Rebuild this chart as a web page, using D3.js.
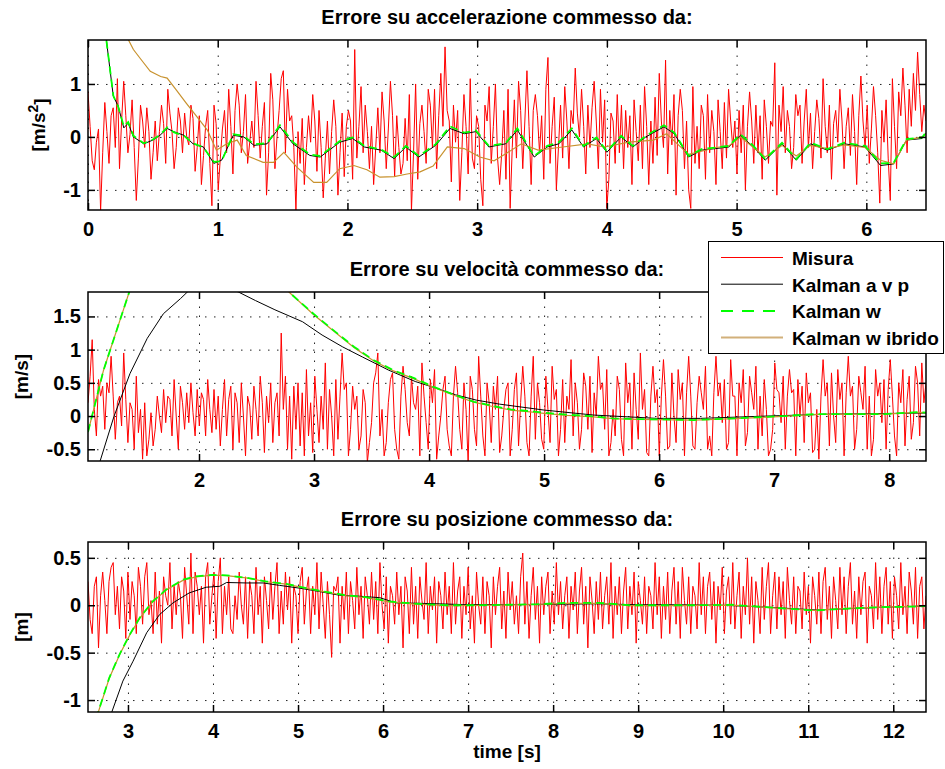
<!DOCTYPE html>
<html><head><meta charset="utf-8">
<script src="https://cdn.jsdelivr.net/npm/d3@7"></script>
<style>
body{margin:0;background:#fff}
text{font-family:"Liberation Sans",Arial,Helvetica,sans-serif;font-weight:bold;fill:#000}
</style>
</head><body>
<svg id="c" width="945" height="769"></svg>
<script>
// ---------------- DATA ----------------
const seriesNames = ["Misura", "Kalman a v p", "Kalman w", "Kalman w ibrido"];

// Panel 1: acceleration error (Misura sampled evenly from T0 to T1)
const accXTicks = [0, 1, 2, 3, 4, 5, 6];
const accYTicks = [-1, 0, 1];
const accMisuraT0 = 0, accMisuraT1 = 6.46;
const accMisura = [
 0.85,0.2,-0.45,-0.62,-0.1,0.15,-1.4,-0.3,0.65,0.1,-0.5,0.4,0.55,-0.2,1.1,-0.6,0.3,1.05,0.4,-0.3,
 0.05,0.7,-0.2,-1.2,-0.4,0.6,0.3,-0.2,0.55,0.1,-0.8,-0.3,0.3,-0.45,0.1,0.6,0.25,-0.5,0.9,0.45,
 0.1,-0.6,-0.2,0.55,0.3,-0.3,0.45,0.0,-0.15,0.6,0.35,-0.65,-0.2,0.4,-0.9,-0.35,0.2,0.5,-0.5,-1.3,
 0.6,0.25,-1.0,-0.4,0.15,0.5,-0.3,0.9,0.2,-0.7,0.5,1.0,0.6,-0.3,0.1,0.8,-0.5,-0.1,0.3,-0.2,
 1.05,0.4,-0.4,0.2,0.65,-1.1,-0.3,1.2,0.7,-0.6,0.0,0.5,1.1,1.25,-0.3,0.9,0.3,0.4,-0.2,-1.4,
 0.1,-0.5,0.35,-0.9,-0.2,0.4,-0.1,0.8,0.3,-0.65,0.5,-0.2,-1.15,-0.4,0.3,-0.7,0.1,0.7,0.2,-1.1,
 -0.3,0.45,-0.75,0.2,0.5,0.3,-0.8,1.65,-0.4,0.2,0.95,-0.3,0.6,0.1,-0.6,0.2,-0.9,-0.2,0.55,-0.3,
 0.85,0.3,-0.6,0.15,1.05,0.4,-0.75,0.4,-0.2,-0.7,-0.5,0.35,-0.45,0.8,-1.4,-0.3,1.0,-0.8,0.25,0.6,
 0.1,-0.5,0.9,0.6,-0.2,0.9,-0.6,0.4,1.2,0.2,1.7,0.5,0.3,-0.85,0.6,-0.1,0.5,-1.2,-0.3,0.8,
 0.2,-0.7,1.1,-0.4,-0.6,0.4,0.2,-0.8,-1.3,0.6,0.3,0.95,-0.5,0.2,1.0,-0.4,-0.9,-0.3,0.5,-0.8,
 0.9,-1.35,-0.2,0.7,-0.4,1.05,0.5,-0.6,0.3,1.25,0.2,-0.9,0.5,0.8,0.4,-0.3,0.4,-0.8,0.9,1.5,
 -0.5,0.2,0.75,-1.0,-0.2,0.6,-0.4,0.95,0.3,-0.6,0.5,0.25,1.3,0.45,0.0,0.9,0.2,-0.7,0.6,-0.2,
 0.55,1.05,0.3,-0.6,0.9,-0.1,0.7,-1.35,-0.8,0.45,0.3,-0.5,0.8,-0.3,0.6,-0.6,0.5,-0.2,0.4,-0.9,
 0.7,0.1,-0.45,0.6,-0.6,0.95,0.2,-0.9,0.3,-0.5,0.75,-0.35,1.2,0.3,-0.2,1.45,-0.7,0.5,-0.15,0.8,
 -1.1,0.4,0.9,0.5,-0.6,0.3,-1.0,-1.35,0.95,-0.5,0.2,-0.6,0.6,0.4,-0.8,0.8,-0.3,0.5,0.1,-0.9,
 0.7,0.1,-0.6,0.65,-0.4,0.9,0.3,-0.2,0.3,-0.7,0.5,-0.3,0.6,-1.0,0.2,0.85,0.3,-0.5,0.6,-0.3,
 0.4,-0.8,0.7,0.2,-0.5,0.3,0.2,1.4,-1.1,0.6,0.1,0.95,-0.3,0.5,0.2,-0.6,-0.2,0.8,0.4,0.6,
 -0.5,0.3,0.9,-0.2,0.45,-0.6,0.1,0.7,0.35,-0.4,1.1,0.2,-0.3,0.6,-0.8,0.25,0.5,-0.1,0.9,0.3,
 -0.6,0.2,0.55,-0.35,0.8,0.1,-0.9,0.4,1.15,0.3,-0.2,0.6,-0.5,0.15,0.95,0.4,-0.3,-1.25,0.5,-0.1,
 0.7,-0.4,-1.2,1.1,0.2,-0.6,0.85,0.4,1.3,0.6,-0.3,0.9,0.2,1.2,0.5,1.6,0.8,0.1,0.6,0.3
];
const accKalT = [0,0.05,0.1,0.14,0.195,0.233,0.276,0.31,0.35,0.43,
 0.5,0.555,0.61,0.66,0.74,0.81,0.89,0.97,1.03,1.12,
 1.2,1.28,1.38,1.48,1.58,1.71,1.79,1.94,2.04,2.13,
 2.26,2.36,2.45,2.55,2.68,2.79,2.9,2.99,3.09,3.22,
 3.31,3.44,3.54,3.63,3.73,3.82,3.92,4.0,4.11,4.2,
 4.3,4.44,4.52,4.63,4.73,4.84,4.94,5.03,5.13,5.22,
 5.35,5.46,5.57,5.7,5.83,5.99,6.11,6.21,6.31,6.43,6.47];
const accKalAVP = [4.0,3.2,2.4,1.86,0.77,0.58,0.17,0.26,0.0,-0.13,
 -0.06,0.03,0.16,0.1,0.03,-0.13,-0.19,-0.5,-0.44,0.03,
 0.0,-0.16,-0.13,0.19,-0.13,-0.35,-0.38,-0.1,-0.03,-0.19,
 -0.25,-0.41,-0.19,-0.38,-0.16,0.16,0.06,0.1,-0.19,-0.13,
 0.13,-0.38,-0.19,-0.13,0.13,-0.19,-0.03,-0.29,0.0,-0.19,
 0.0,0.19,0.06,-0.38,-0.25,-0.22,-0.19,0.03,-0.19,-0.44,
 -0.13,-0.44,-0.13,-0.25,-0.13,-0.19,-0.54,-0.51,-0.06,-0.03,0.1];
const accKalW = [4.0,3.2,2.4,1.86,0.78,0.57,0.2,0.28,0.02,-0.12,
 -0.05,0.04,0.18,0.09,0.02,-0.12,-0.2,-0.47,-0.46,0.05,
 0.02,-0.14,-0.12,0.22,-0.1,-0.33,-0.36,-0.08,-0.01,-0.17,
 -0.24,-0.38,-0.17,-0.36,-0.14,0.2,0.08,0.12,-0.17,-0.12,
 0.16,-0.36,-0.17,-0.1,0.16,-0.17,-0.01,-0.27,0.02,-0.17,
 0.02,0.22,0.08,-0.36,-0.23,-0.2,-0.17,0.05,-0.17,-0.42,
 -0.11,-0.42,-0.11,-0.23,-0.11,-0.17,-0.5,-0.49,-0.04,-0.01,0.12];
const accIbrT = [0,0.2,0.27,0.31,0.35,0.4,0.48,0.56,0.61,0.68,
 0.76,0.83,0.92,0.99,1.07,1.15,1.22,1.35,1.43,1.51,
 1.61,1.74,1.84,1.94,2.05,2.15,2.25,2.36,2.46,2.56,
 2.66,2.77,2.9,3.02,3.13,3.22,3.34,3.47,3.66,3.85,
 3.98,4.17,4.36,4.46,4.63,4.73,4.84,4.94,5.03,5.13,
 5.22,5.35,5.46,5.57,5.7,5.83,5.99,6.11,6.21,6.31,6.43,6.47];
const accIbr = [3.0,2.1,1.87,1.84,1.65,1.49,1.24,1.14,1.11,0.89,
 0.63,0.41,0.13,-0.25,-0.13,-0.06,-0.35,-0.48,-0.48,-0.29,
 -0.57,-0.86,-0.86,-0.6,-0.54,-0.62,-0.76,-0.75,-0.7,-0.66,
 -0.55,-0.19,-0.22,-0.38,-0.45,-0.32,-0.13,-0.25,-0.19,-0.13,
 -0.19,-0.1,-0.06,0.06,-0.33,-0.27,-0.2,-0.17,0.0,-0.2,
 -0.38,-0.16,-0.36,-0.16,-0.22,-0.15,-0.2,-0.44,-0.51,-0.06,0.0,0.06];

// Panel 2: velocity error
const velXTicks = [2, 3, 4, 5, 6, 7, 8];
const velYTicks = [-0.5, 0, 0.5, 1, 1.5];
const velMisuraT0 = 1.035, velMisuraT1 = 8.32;
const velMisura = [
 0.2,0.6,1.15,0.1,-0.3,0.55,0.3,0.45,-0.2,0.5,0.35,0.9,0.3,-0.35,0.2,0.3,-0.15,0.95,0.25,-0.4,
 0.2,0.1,-0.5,0.6,-0.25,0.1,-0.65,0.2,-0.6,-0.35,0.05,-0.45,-0.2,0.3,0.0,-0.25,0.4,-0.1,0.3,0.25,
 -0.3,0.55,0.0,-0.5,0.45,0.2,-0.2,0.35,-0.1,0.5,0.05,-0.3,0.4,-0.15,0.35,0.25,-0.3,0.55,0.1,-0.25,
 0.4,-0.2,0.3,-0.45,0.1,0.55,-0.3,0.25,0.45,-0.5,0.35,0.2,-0.4,0.5,0.0,-0.6,0.3,0.15,-0.35,0.45,
 0.1,-0.3,0.6,0.2,-0.55,0.3,-0.1,0.5,-0.4,0.2,0.35,-0.3,1.25,0.1,0.6,-0.5,0.3,-0.65,0.45,-0.2,
 0.5,-0.45,0.35,-0.6,0.7,-0.3,0.2,-0.55,0.6,0.1,-0.4,0.3,-0.2,0.8,-0.5,0.4,0.0,-0.6,0.55,-0.35,
 0.3,0.95,0.4,0.5,-0.6,-0.2,0.45,0.1,0.3,-0.5,-0.3,0.4,0.2,-0.7,-0.4,-0.1,0.5,0.65,0.95,-0.3,
 0.1,-0.6,-0.4,0.2,0.55,0.65,-0.2,-0.5,-0.65,0.3,0.75,0.4,-0.1,-0.3,0.6,0.2,0.1,0.45,-0.6,0.8,
 0.3,-0.1,-0.5,0.55,0.2,0.7,-0.65,-0.3,0.0,0.4,0.6,-0.2,-0.45,-0.6,0.3,0.75,0.35,-0.2,-0.5,0.5,
 0.1,-0.7,0.6,0.4,-0.2,-0.45,0.9,0.3,-0.3,-0.6,0.5,0.2,-0.4,0.45,0.1,0.6,-0.55,-0.3,0.1,0.4,
 0.5,-0.6,-0.2,0.4,0.65,-0.45,0.2,0.75,0.3,-0.4,-0.6,0.3,0.9,-0.35,0.5,0.2,-0.35,-0.5,0.6,0.1,
 -0.4,0.75,0.25,0.4,-0.6,-0.2,0.55,-0.4,0.3,0.1,0.85,-0.3,0.5,0.2,-0.5,-0.2,0.65,0.45,-0.2,0.6,
 -0.55,0.35,0.0,0.9,0.4,0.5,-0.2,0.7,-0.6,-0.4,0.1,-0.3,0.6,0.4,-0.35,-0.6,0.8,0.2,0.5,-0.5,
 0.65,0.1,-0.35,0.95,0.1,0.4,-0.55,-0.6,0.3,0.75,0.2,0.4,-0.6,0.3,0.85,0.3,-0.5,-0.45,0.65,0.0,
 -0.4,0.7,0.25,0.5,-0.6,0.35,0.9,0.3,-0.45,-0.5,0.2,0.6,0.35,0.1,0.75,-0.5,-0.3,-0.6,0.35,0.9,
 0.3,0.5,-0.1,0.55,-0.5,-0.4,0.85,0.3,0.3,-0.6,0.5,0.2,0.7,-0.45,-0.25,0.6,0.35,0.1,0.75,-0.5,
 0.3,-0.3,0.55,0.1,-0.6,-0.5,-0.2,0.8,0.4,0.35,-0.1,0.6,-0.5,0.3,0.7,0.35,0.4,-0.6,0.55,0.0,
 0.45,-0.4,0.65,0.2,0.35,-0.55,-0.5,0.1,-0.65,0.3,0.85,0.3,0.5,-0.45,0.65,0.0,-0.4,0.7,0.25,0.5,
 -0.6,0.35,0.9,0.3,0.45,-0.5,-0.2,0.6,0.35,0.1,0.75,-0.5,0.3,-0.6,-0.35,0.7,0.3,0.5,-0.1,0.55,
 -0.5,0.4,0.85,0.3,-0.3,-0.6,0.5,0.2,0.7,-0.45,0.25,0.6,-0.35,-0.1,0.75,0.5,-0.3,0.8,0.2,0.5
];
const velKalAVPT = [1.035,1.14,1.26,1.4,1.55,1.69,1.84,1.9,2.1,2.34,
 2.49,2.66,2.9,3.07,3.25,3.42,3.65,3.88,4.06,4.23,
 4.41,4.61,5.0,5.43,5.98,6.36,6.94,7.52,8.32];
const velKalAVP = [-1.4,-0.68,-0.01,0.64,1.17,1.54,1.77,1.87,2.0,1.87,
 1.74,1.6,1.42,1.22,1.04,0.89,0.69,0.52,0.42,0.32,
 0.24,0.18,0.09,0.015,-0.035,-0.035,0.0,0.03,0.045];
const velKalWT = [1.035,1.17,1.394,1.6,1.8,2.0,2.2,2.4,2.6,2.78,
 2.995,3.17,3.35,3.52,3.69,3.87,4.04,4.22,4.39,4.56,
 4.71,4.9,5.0,5.2,5.4,5.6,5.8,6.0,6.3,6.65,
 7.08,7.37,7.67,7.96,8.25,8.32];
const velKalW = [-0.24,0.69,1.87,2.9,3.4,3.6,3.5,3.1,2.5,1.87,
 1.54,1.29,1.04,0.84,0.69,0.57,0.44,0.32,0.215,0.15,
 0.1,0.07,0.05,0.02,0.0,-0.035,-0.045,-0.05,-0.06,-0.035,
 0.0,0.03,0.03,0.03,0.06,0.05];
const velIbr = [-0.24,0.69,1.87,2.9,3.4,3.6,3.5,3.1,2.5,1.87,
 1.53,1.28,1.03,0.83,0.68,0.56,0.43,0.31,0.21,0.14,
 0.09,0.06,0.04,0.01,-0.01,-0.04,-0.05,-0.055,-0.06,-0.04,
 -0.005,0.025,0.03,0.03,0.055,0.05];

// Panel 3: position error
const posXTicks = [3, 4, 5, 6, 7, 8, 9, 10, 11, 12];
const posYTicks = [-1, -0.5, 0, 0.5];
const posMisuraT0 = 2.53, posMisuraT1 = 12.385;
const posMisura = [
 0.25,-0.15,-0.3,0.2,0.3,-0.45,0.1,0.35,0.05,-0.3,0.25,0.4,0.45,-0.1,0.2,-0.25,0.3,0.15,-0.35,0.35,
 -0.15,0.25,0.1,-0.3,0.4,0.2,-0.2,0.3,0.45,-0.1,0.05,-0.3,0.35,-0.2,0.15,-0.4,0.3,0.1,0.0,0.45,
 -0.25,0.2,-0.1,0.25,0.1,-0.35,0.4,0.1,-0.2,0.55,-0.3,0.35,0.2,-0.1,0.2,-0.4,0.3,0.45,-0.2,0.1,
 0.35,-0.35,0.25,0.5,-0.3,0.2,-0.1,0.3,-0.25,-0.3,0.1,-0.15,0.35,0.0,-0.2,0.3,-0.35,0.25,0.1,-0.3,
 0.4,-0.1,0.2,-0.4,0.3,0.05,-0.25,0.35,-0.15,0.2,0.45,-0.3,0.15,-0.2,0.35,-0.05,0.3,-0.4,0.2,0.1,
 -0.3,0.25,0.4,-0.2,0.15,0.3,-0.3,0.2,-0.1,0.45,-0.25,0.35,0.0,-0.35,0.25,-0.1,-0.55,0.2,0.15,0.3,
 -0.4,0.2,-0.15,0.35,-0.3,0.25,0.05,-0.25,0.4,-0.1,0.2,-0.35,0.3,0.1,-0.2,0.35,-0.15,0.25,-0.3,0.45,
 0.0,-0.25,0.3,-0.4,0.2,0.1,-0.2,0.35,-0.1,0.2,-0.45,0.3,0.15,-0.3,0.4,-0.2,0.2,-0.35,0.3,0.05,
 -0.15,0.45,-0.3,0.2,-0.05,0.3,-0.4,0.25,0.1,-0.25,0.35,-0.1,0.2,-0.3,0.45,-0.2,0.15,0.3,-0.35,0.2,
 -0.1,0.4,-0.25,0.1,-0.4,0.35,0.0,-0.2,0.3,-0.3,0.25,0.1,-0.45,0.3,-0.1,0.2,0.4,-0.25,0.15,-0.35,
 0.35,-0.05,0.25,-0.2,0.1,-0.3,0.3,0.55,-0.2,0.25,-0.35,0.1,0.4,-0.15,0.2,-0.4,0.3,-0.1,0.2,0.35,
 -0.3,0.15,-0.2,0.45,-0.1,0.25,-0.25,0.1,0.3,-0.35,0.2,-0.05,0.35,-0.3,0.15,0.4,-0.2,0.2,-0.45,0.3,
 0.05,-0.3,0.25,-0.15,0.35,-0.25,0.1,0.3,-0.2,0.45,-0.35,0.2,-0.1,0.3,-0.3,0.15,0.4,-0.25,0.2,-0.1,
 0.35,-0.4,0.25,0.05,-0.2,0.3,-0.3,0.2,0.1,-0.25,0.45,-0.1,0.3,-0.35,0.2,-0.15,0.35,-0.3,0.15,0.4,
 -0.2,0.25,-0.35,0.4,0.05,-0.2,0.3,-0.3,0.2,0.1,-0.25,0.45,-0.1,0.3,-0.3,0.2,0.35,-0.15,0.25,-0.4,
 0.2,-0.05,0.4,-0.3,0.15,0.3,-0.2,0.45,-0.25,0.1,0.35,-0.35,0.2,-0.1,0.5,-0.2,0.3,-0.4,0.25,0.05,
 -0.3,0.4,-0.15,0.2,0.45,-0.3,0.1,0.35,-0.25,0.3,-0.1,0.25,-0.35,0.4,0.05,-0.2,0.3,-0.3,0.2,0.15,
 -0.25,0.35,-0.1,0.2,-0.4,0.3,0.1,-0.2,0.35,-0.3,0.25,0.4,-0.15,0.2,-0.35,0.3,0.05,-0.25,0.4,-0.1,
 0.3,-0.3,0.2,0.45,-0.2,0.15,-0.35,0.3,-0.1,0.25,0.35,-0.4,0.2,0.1,-0.25,0.45,-0.15,0.3,-0.3,0.2,
 0.4,-0.2,0.25,-0.35,0.3,0.1,-0.25,0.45,-0.1,0.2,-0.3,0.35,0.15,-0.2,0.4,-0.35,0.2,0.3,-0.25,0.1
];
const posKalAVPT = [2.53,2.81,2.94,3.06,3.22,3.37,3.53,3.72,3.92,4.08,
 4.16,4.39,4.59,4.78,5.02,5.25,5.49,5.72,5.96,6.15,
 6.54,6.93,7.48,8.0,8.5,9.0,9.5,10.0,10.5,10.9,
 11.1,11.5,11.9,12.38];
const posKalAVP = [-1.9,-1.126,-0.8,-0.59,-0.29,-0.1,0.025,0.13,0.19,0.2,
 0.24,0.235,0.235,0.21,0.18,0.145,0.105,0.095,0.08,0.025,
 0.018,0.007,0.007,0.01,0.015,0.005,0.005,0.0,-0.02,-0.04,
 -0.05,-0.035,-0.02,-0.01];
const posKalWT = [2.53,2.65,2.78,2.9,3.02,3.14,3.29,3.45,3.65,3.8,
 4.0,4.16,4.39,4.63,4.86,5.1,5.33,5.57,5.8,6.07,
 6.35,6.74,7.13,7.48,7.8,8.15,8.54,8.9,9.3,9.7,
 10.1,10.5,10.9,11.08,11.47,11.86,12.2,12.38];
const posKalW = [-1.46,-1.126,-0.765,-0.52,-0.31,-0.13,0.04,0.165,0.27,0.305,
 0.32,0.315,0.29,0.25,0.225,0.18,0.14,0.105,0.085,0.04,
 0.018,0.0,0.0,0.005,0.01,0.025,0.025,0.0,0.0,0.0,
 0.005,-0.02,-0.045,-0.056,-0.035,-0.02,-0.015,-0.01];
const posIbr = [-1.47,-1.13,-0.77,-0.525,-0.315,-0.135,0.035,0.16,0.265,0.3,
 0.318,0.312,0.288,0.248,0.222,0.178,0.138,0.1,0.08,0.035,
 0.015,-0.003,-0.002,0.003,0.008,0.02,0.02,-0.003,-0.003,-0.002,
 0.002,-0.022,-0.045,-0.054,-0.033,-0.02,-0.013,-0.008];

// ---------------- DRAW ----------------
const colors = {mis:"#ff0000", avp:"#000000", w:"#00ff00", ibr:"#c8922e", ibrLeg:"#d2b07a"};
const L = 88, R = 926;
const zip = (ts, vs) => vs.map((v, i) => [ts[i], v]);
const evenly = (t0, t1, vs) => vs.map((v, i) => [t0 + i * (t1 - t0) / (vs.length - 1), v]);

const panels = [
  {top:40, bottom:210, xDom:[0, 6.46], yDom:[-1.38, 1.83], xTicks:accXTicks, yTicks:accYTicks,
   title:"Errore su accelerazione commesso da:", ylab:"acc", ylx:38,
   mis:evenly(accMisuraT0, accMisuraT1, accMisura), avp:zip(accKalT, accKalAVP),
   w:zip(accKalT, accKalW), ibr:zip(accIbrT, accIbr)},
  {top:292, bottom:461, xDom:[1.035, 8.32], yDom:[-0.677, 1.868], xTicks:velXTicks, yTicks:velYTicks,
   title:"Errore su velocità commesso da:", ylab:"[m/s]", ylx:21,
   mis:evenly(velMisuraT0, velMisuraT1, velMisura), avp:zip(velKalAVPT, velKalAVP),
   w:zip(velKalWT, velKalW), ibr:zip(velKalWT, velIbr)},
  {top:542, bottom:712, xDom:[2.53, 12.385], yDom:[-1.126, 0.667], xTicks:posXTicks, yTicks:posYTicks,
   title:"Errore su posizione commesso da:", ylab:"[m]", ylx:21,
   mis:evenly(posMisuraT0, posMisuraT1, posMisura), avp:zip(posKalAVPT, posKalAVP),
   w:zip(posKalWT, posKalW), ibr:zip(posKalWT, posIbr)}
];

const svg = d3.select("#c");
svg.append("rect").attr("width",945).attr("height",769).attr("fill","#fff");
const FS = 19, TFS = 20;

panels.forEach((p, pi) => {
  const x = d3.scaleLinear().domain(p.xDom).range([L, R]);
  const y = d3.scaleLinear().domain(p.yDom).range([p.bottom, p.top]);
  const h = p.bottom - p.top, w = R - L;
  const g = svg.append("g");

  // grid
  const gx = g.append("g").attr("transform", `translate(0,${p.bottom})`)
    .call(d3.axisBottom(x).tickValues(p.xTicks).tickSize(-h).tickFormat(""));
  const gy = g.append("g").attr("transform", `translate(${L},0)`)
    .call(d3.axisLeft(y).tickValues(p.yTicks).tickSize(-w).tickFormat(""));
  [gx, gy].forEach(a => {
    a.select(".domain").remove();
    a.selectAll("line").attr("stroke", "#222").attr("stroke-width", 1).attr("stroke-dasharray", "1.5,7.5");
  });

  // clip
  const cid = "clip" + pi;
  g.append("clipPath").attr("id", cid).append("rect")
    .attr("x", L).attr("y", p.top).attr("width", w).attr("height", h);
  const line = d3.line().x(d => x(d[0])).y(d => y(d[1]));
  const lg = g.append("g").attr("clip-path", `url(#${cid})`);
  lg.append("path").attr("d", line(p.mis)).attr("fill","none").attr("stroke",colors.mis).attr("stroke-width",1);
  lg.append("path").attr("d", line(p.avp)).attr("fill","none").attr("stroke",colors.avp).attr("stroke-width",1);
  lg.append("path").attr("d", line(p.ibr)).attr("fill","none").attr("stroke",colors.ibr).attr("stroke-width",1.2);
  lg.append("path").attr("d", line(p.w)).attr("fill","none").attr("stroke",colors.w).attr("stroke-width",1.8)
    .attr("stroke-dasharray","8,5");

  // axes with inward ticks
  const ax = [
    g.append("g").attr("transform", `translate(0,${p.bottom})`)
      .call(d3.axisBottom(x).tickValues(p.xTicks).tickSizeInner(-7).tickSizeOuter(0).tickPadding(12).tickFormat(d => String(d))),
    g.append("g").attr("transform", `translate(0,${p.top})`)
      .call(d3.axisTop(x).tickValues(p.xTicks).tickSizeInner(-7).tickSizeOuter(0).tickFormat("")),
    g.append("g").attr("transform", `translate(${L},0)`)
      .call(d3.axisLeft(y).tickValues(p.yTicks).tickSizeInner(-7).tickSizeOuter(0).tickPadding(7).tickFormat(d => String(d))),
    g.append("g").attr("transform", `translate(${R},0)`)
      .call(d3.axisRight(y).tickValues(p.yTicks).tickSizeInner(-7).tickSizeOuter(0).tickFormat(""))
  ];
  ax.forEach(a => {
    a.select(".domain").remove();
    a.selectAll("line").attr("stroke", "#000").attr("stroke-width", 1.5);
    a.selectAll("text").attr("font-size", TFS).attr("font-family", null).attr("fill", "#000");
  });
  g.append("rect").attr("x", L).attr("y", p.top).attr("width", w).attr("height", h)
    .attr("fill", "none").attr("stroke", "#000").attr("stroke-width", 1.5);

  // title
  g.append("text").attr("x", (L + R) / 2).attr("y", p.top - 16).attr("text-anchor", "middle")
    .attr("font-size", 20).text(p.title);

  // y label
  const yl = g.append("text").attr("transform", `translate(${p.ylx},${(p.top + p.bottom) / 2}) rotate(-90)`)
    .attr("text-anchor", "middle").attr("dy", "0.35em").attr("font-size", FS);
  if (p.ylab === "acc") {
    yl.append("tspan").text("[m/s");
    yl.append("tspan").attr("dy", "-0.45em").attr("font-size", 14).text("2");
    yl.append("tspan").attr("dy", "0.45em").text("]");
  } else yl.text(p.ylab);
});

// x label
svg.append("text").attr("x", (L + R) / 2).attr("y", 758).attr("text-anchor", "middle")
  .attr("font-size", FS).text("time [s]");

// legend
const leg = svg.append("g");
leg.append("rect").attr("x", 708.5).attr("y", 241.5).attr("width", 235).attr("height", 112)
  .attr("fill", "#fff").attr("stroke", "#000").attr("stroke-width", 1);
const legStyles = [
  {c:colors.mis, wd:1, da:null},
  {c:colors.avp, wd:1, da:null},
  {c:colors.w, wd:2, da:"12,9"},
  {c:colors.ibrLeg, wd:2, da:null}
];
seriesNames.forEach((name, i) => {
  const yb = 265 + i * 26.7;
  leg.append("line").attr("x1", 721).attr("x2", 783).attr("y1", yb - 7.5).attr("y2", yb - 7.5)
    .attr("stroke", legStyles[i].c).attr("stroke-width", legStyles[i].wd)
    .attr("stroke-dasharray", legStyles[i].da);
  leg.append("text").attr("x", 792).attr("y", yb).attr("font-size", FS).text(name);
});
</script>
</body></html>
